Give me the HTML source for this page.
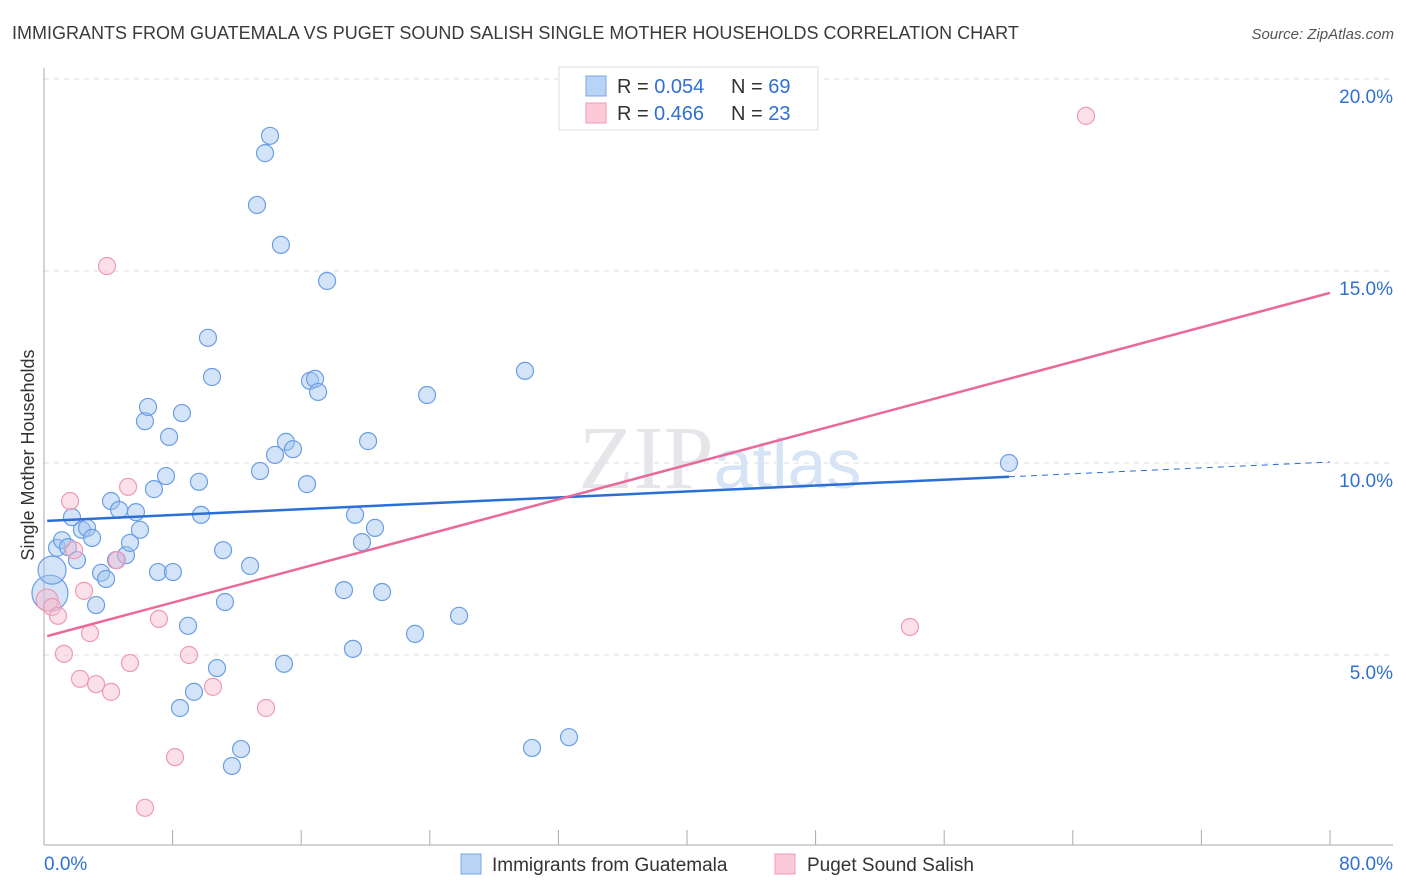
<!DOCTYPE html>
<html><head><meta charset="utf-8"><style>
body{margin:0;background:#fff;font-family:"Liberation Sans",sans-serif;}
svg{display:block}
</style></head><body>
<svg id="c" width="1406" height="892">
<text x="12" y="39" font-size="18" fill="#3a3a3a">IMMIGRANTS FROM GUATEMALA VS PUGET SOUND SALISH SINGLE MOTHER HOUSEHOLDS CORRELATION CHART</text>
<text x="1394" y="39" font-size="15" fill="#555" font-style="italic" text-anchor="end">Source: ZipAtlas.com</text>
<g id="grid"></g>
<text x="720" y="488" font-size="90" fill="#e6e6ea" text-anchor="middle" font-family="Liberation Serif,serif">ZIP<tspan fill="#d6e4f5" font-family="Liberation Sans,sans-serif" font-size="70">atlas</tspan></text>
<g id="axes"></g>
<g id="pts"></g>
<g id="trend"></g>
<text transform="translate(34,455) rotate(-90)" font-size="18" fill="#333" text-anchor="middle">Single Mother Households</text>
<g>
<rect x="559" y="67" width="259" height="63" fill="#fff" stroke="#ddd"/>
<rect x="586" y="76" width="20" height="20" fill="#b9d3f5" stroke="#7aa7e6"/>
<rect x="586" y="103" width="20" height="20" fill="#fbcad8" stroke="#f09ab4"/>
<text x="617" y="93" font-size="20" fill="#333">R = <tspan fill="#2f6fd6">0.054</tspan><tspan x="731">N = </tspan><tspan fill="#2f6fd6">69</tspan></text>
<text x="617" y="120" font-size="20" fill="#333">R = <tspan fill="#2f6fd6" x="654">0.466</tspan><tspan x="731">N = </tspan><tspan fill="#2f6fd6">23</tspan></text>
</g>
<g>
<rect x="461" y="854" width="20" height="20" fill="#b9d3f5" stroke="#7aa7e6"/>
<text x="492" y="871" font-size="19" fill="#333">Immigrants from Guatemala</text>
<rect x="775" y="854" width="20" height="20" fill="#fbcad8" stroke="#f09ab4"/>
<text x="807" y="871" font-size="19" fill="#333">Puget Sound Salish</text>
</g>
</svg>
<script>
const blueX=[0.37,0.50,0.81,1.12,1.49,1.74,2.05,2.36,2.68,2.99,3.24,3.55,3.86,4.17,4.48,4.67,5.10,5.35,5.72,5.97,6.28,6.47,6.84,7.09,7.59,7.78,8.02,8.46,8.58,8.96,9.33,9.64,9.77,10.20,10.45,10.76,11.14,11.26,11.69,12.26,12.82,13.25,13.44,13.75,14.06,14.37,14.74,14.93,15.05,15.49,16.36,16.55,16.86,17.05,17.61,18.66,19.22,19.35,19.78,20.16,20.59,21.03,23.08,23.83,25.82,29.92,30.36,32.66,60.03];
const blueY=[6.61,7.21,7.79,7.99,7.81,8.59,7.47,8.26,8.31,8.05,6.30,7.14,6.98,9.01,7.47,8.78,7.60,7.92,8.72,8.26,11.09,11.46,9.32,7.16,9.66,10.68,7.16,3.62,11.30,5.76,4.04,9.51,8.65,13.26,12.24,4.66,7.73,6.38,2.11,2.55,7.32,16.72,9.79,18.07,18.52,10.21,15.68,4.77,10.55,10.36,9.45,12.14,12.19,11.85,14.74,6.69,5.16,8.65,7.94,10.57,8.31,6.64,5.55,11.77,6.02,12.40,2.58,2.86,10.00];
const pinkX=[0.19,0.50,0.87,1.24,1.62,1.87,2.24,2.49,2.86,3.24,3.92,4.17,4.54,5.23,5.35,7.15,8.15,9.02,10.51,13.81,6.28,53.87,64.82];
const pinkY=[6.43,6.25,6.02,5.03,9.01,7.73,4.38,6.67,5.57,4.24,15.13,4.04,7.47,9.38,4.79,5.94,2.34,5.00,4.17,3.62,1.02,5.73,19.04];
const blueTrend=[8.49,0.0192]; // intercept, slope
const pinkTrend=[5.47,0.112];
const yTicks=[5,10,15,20];
const yTickLabels=["5.0%","10.0%","15.0%","20.0%"];
const xTickLabels=["0.0%","80.0%"];
const NS="http://www.w3.org/2000/svg";
const sx=v=>44+v/80*1286, sy=v=>847-v*38.4;
function mk(p,t,a){const e=document.createElementNS(NS,t);for(const k in a)e.setAttribute(k,a[k]);p.appendChild(e);return e;}
const grid=document.getElementById('grid'),axes=document.getElementById('axes'),pts=document.getElementById('pts'),tr=document.getElementById('trend');
yTicks.forEach((v,i)=>{
 const l=mk(grid,'line',{x1:44,x2:1393,y1:sy(v),y2:sy(v),stroke:'#ddd','stroke-dasharray':'5,5'});
 
 
 const t=mk(axes,'text',{x:1393,y:sy(v)+24,'font-size':19,fill:'#2f6fd6','text-anchor':'end'});
 t.textContent=yTickLabels[i];
 
 
});
mk(axes,'line',{x1:44,x2:44,y1:68,y2:845,stroke:'#aaa'});
mk(axes,'line',{x1:44,x2:1393,y1:845,y2:845,stroke:'#aaa'});
for(let i=0;i<=10;i++){const x=sx(i*8);mk(axes,'line',{x1:x,x2:x,y1:830,y2:845,stroke:'#aaa'});}
const xl=mk(axes,'text',{x:44,y:870,'font-size':19,fill:'#2f6fd6'});xl.textContent=xTickLabels[0];


const xr=mk(axes,'text',{x:1393,y:870,'font-size':19,fill:'#2f6fd6','text-anchor':'end'});xr.textContent=xTickLabels[1];


blueX.forEach((x,i)=>{const r=i==0?18:(i==1?14:8.5);
 const c=mk(pts,'circle',{cx:sx(x),cy:sy(blueY[i]),r:r,fill:'rgba(160,196,240,0.45)',stroke:'#6a9ee3','stroke-width':1.2});
 
 });
pinkX.forEach((x,i)=>{const r=i==0?11:8.5;
 const c=mk(pts,'circle',{cx:sx(x),cy:sy(pinkY[i]),r:r,fill:'rgba(248,186,206,0.45)',stroke:'#ee9ab5','stroke-width':1.2});
 
 });
const bx=Math.max(...blueX);
const b1=mk(tr,'line',{x1:sx(0.2),y1:sy(blueTrend[0]+blueTrend[1]*0.2),x2:sx(bx),y2:sy(blueTrend[0]+blueTrend[1]*bx),stroke:'#2a6fd6','stroke-width':2.5});


const b2=mk(tr,'line',{x1:sx(bx),y1:sy(blueTrend[0]+blueTrend[1]*bx),x2:sx(80),y2:sy(blueTrend[0]+blueTrend[1]*80),stroke:'#2a6fd6','stroke-width':1,'stroke-dasharray':'6,5'});


const p1=mk(tr,'line',{x1:sx(0.2),y1:sy(pinkTrend[0]+pinkTrend[1]*0.2),x2:sx(80),y2:sy(pinkTrend[0]+pinkTrend[1]*80),stroke:'#e8699a','stroke-width':2.5});


</script>
</body></html>
